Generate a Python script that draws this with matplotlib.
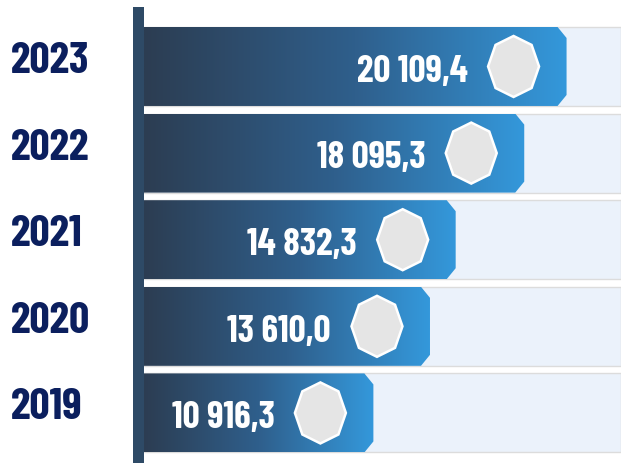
import numpy as np
import matplotlib
matplotlib.use("Agg")
import matplotlib.pyplot as plt
from matplotlib.patches import Polygon, Rectangle
from matplotlib.colors import LinearSegmentedColormap

years = ["2023", "2022", "2021", "2020", "2019"]
values = [20109.4, 18095.3, 14832.3, 13610.0, 10916.3]
labels = ["20 109,4", "18 095,3", "14 832,3", "13 610,0", "10 916,3"]

W, H, DPI = 621, 464, 100
FONT = ["Barlow Condensed", "DejaVu Sans"]

fig = plt.figure(figsize=(W / DPI, H / DPI), dpi=DPI)
ax = fig.add_axes([144 / W, 0, 477 / W, 1])
ax.set_xlim(0, 22700)
ax.set_ylim(4.578, -0.779)
ax.axis("off")

px_x = 477 / 22700          # pixels per value unit
px_y = 86.6                 # pixels per row
bar_h = 0.912
cham_x = 9 / px_x
cham_y = 11 / px_y

cmap = LinearSegmentedColormap.from_list("bar", ["#2c3d52", "#2f5f8c", "#3498db"])
grad = np.linspace(0, 1, 256).reshape(1, -1)

for i, (yr, v, lab) in enumerate(zip(years, values, labels)):
    top, bot = i - bar_h / 2, i + bar_h / 2
    # light background strip
    ax.add_patch(Rectangle((0, top), 22700, bar_h, facecolor="#ebf2fb",
                           edgecolor="#dcdcdc", linewidth=1, zorder=1))
    # bar shape with chamfered end
    shape = Polygon([(0, top), (v - cham_x, top), (v, top + cham_y),
                     (v, bot - cham_y), (v - cham_x, bot), (0, bot)],
                    closed=True, facecolor="none", edgecolor="none")
    ax.add_patch(shape)
    im = ax.imshow(grad, cmap=cmap, aspect="auto", extent=[0, v, bot, top],
                   zorder=2, interpolation="bilinear")
    im.set_clip_path(shape)

    # octagon badge
    cx = v - 53 / px_x
    hw, hh = 25.5 / px_x, 30.5 / px_y
    ang = np.deg2rad(np.arange(0, 360, 45))
    pts = np.column_stack([cx + hw * np.sin(ang), i - hh * np.cos(ang)])
    ax.add_patch(Polygon(pts, closed=True, facecolor="#e5e5e5",
                         edgecolor="white", linewidth=1.8, zorder=3))

    ax.text(cx - 46 / px_x, i + 0.05, lab, color="white", ha="right", va="center",
            fontsize=27, fontweight="bold", family=FONT, zorder=4)

    ax.text(-133 / 477, i - 0.07, yr, transform=ax.get_yaxis_transform(),
            color="#0b1f5e", ha="left", va="center", fontsize=32,
            fontweight="bold", family=FONT, clip_on=False)

# vertical axis strip
fig.add_artist(Rectangle((133 / W, 0), 11 / W, (H - 8) / H, transform=fig.transFigure,
                         facecolor="#2e4a66", edgecolor="none"))

fig.savefig("out.png", dpi=DPI)
